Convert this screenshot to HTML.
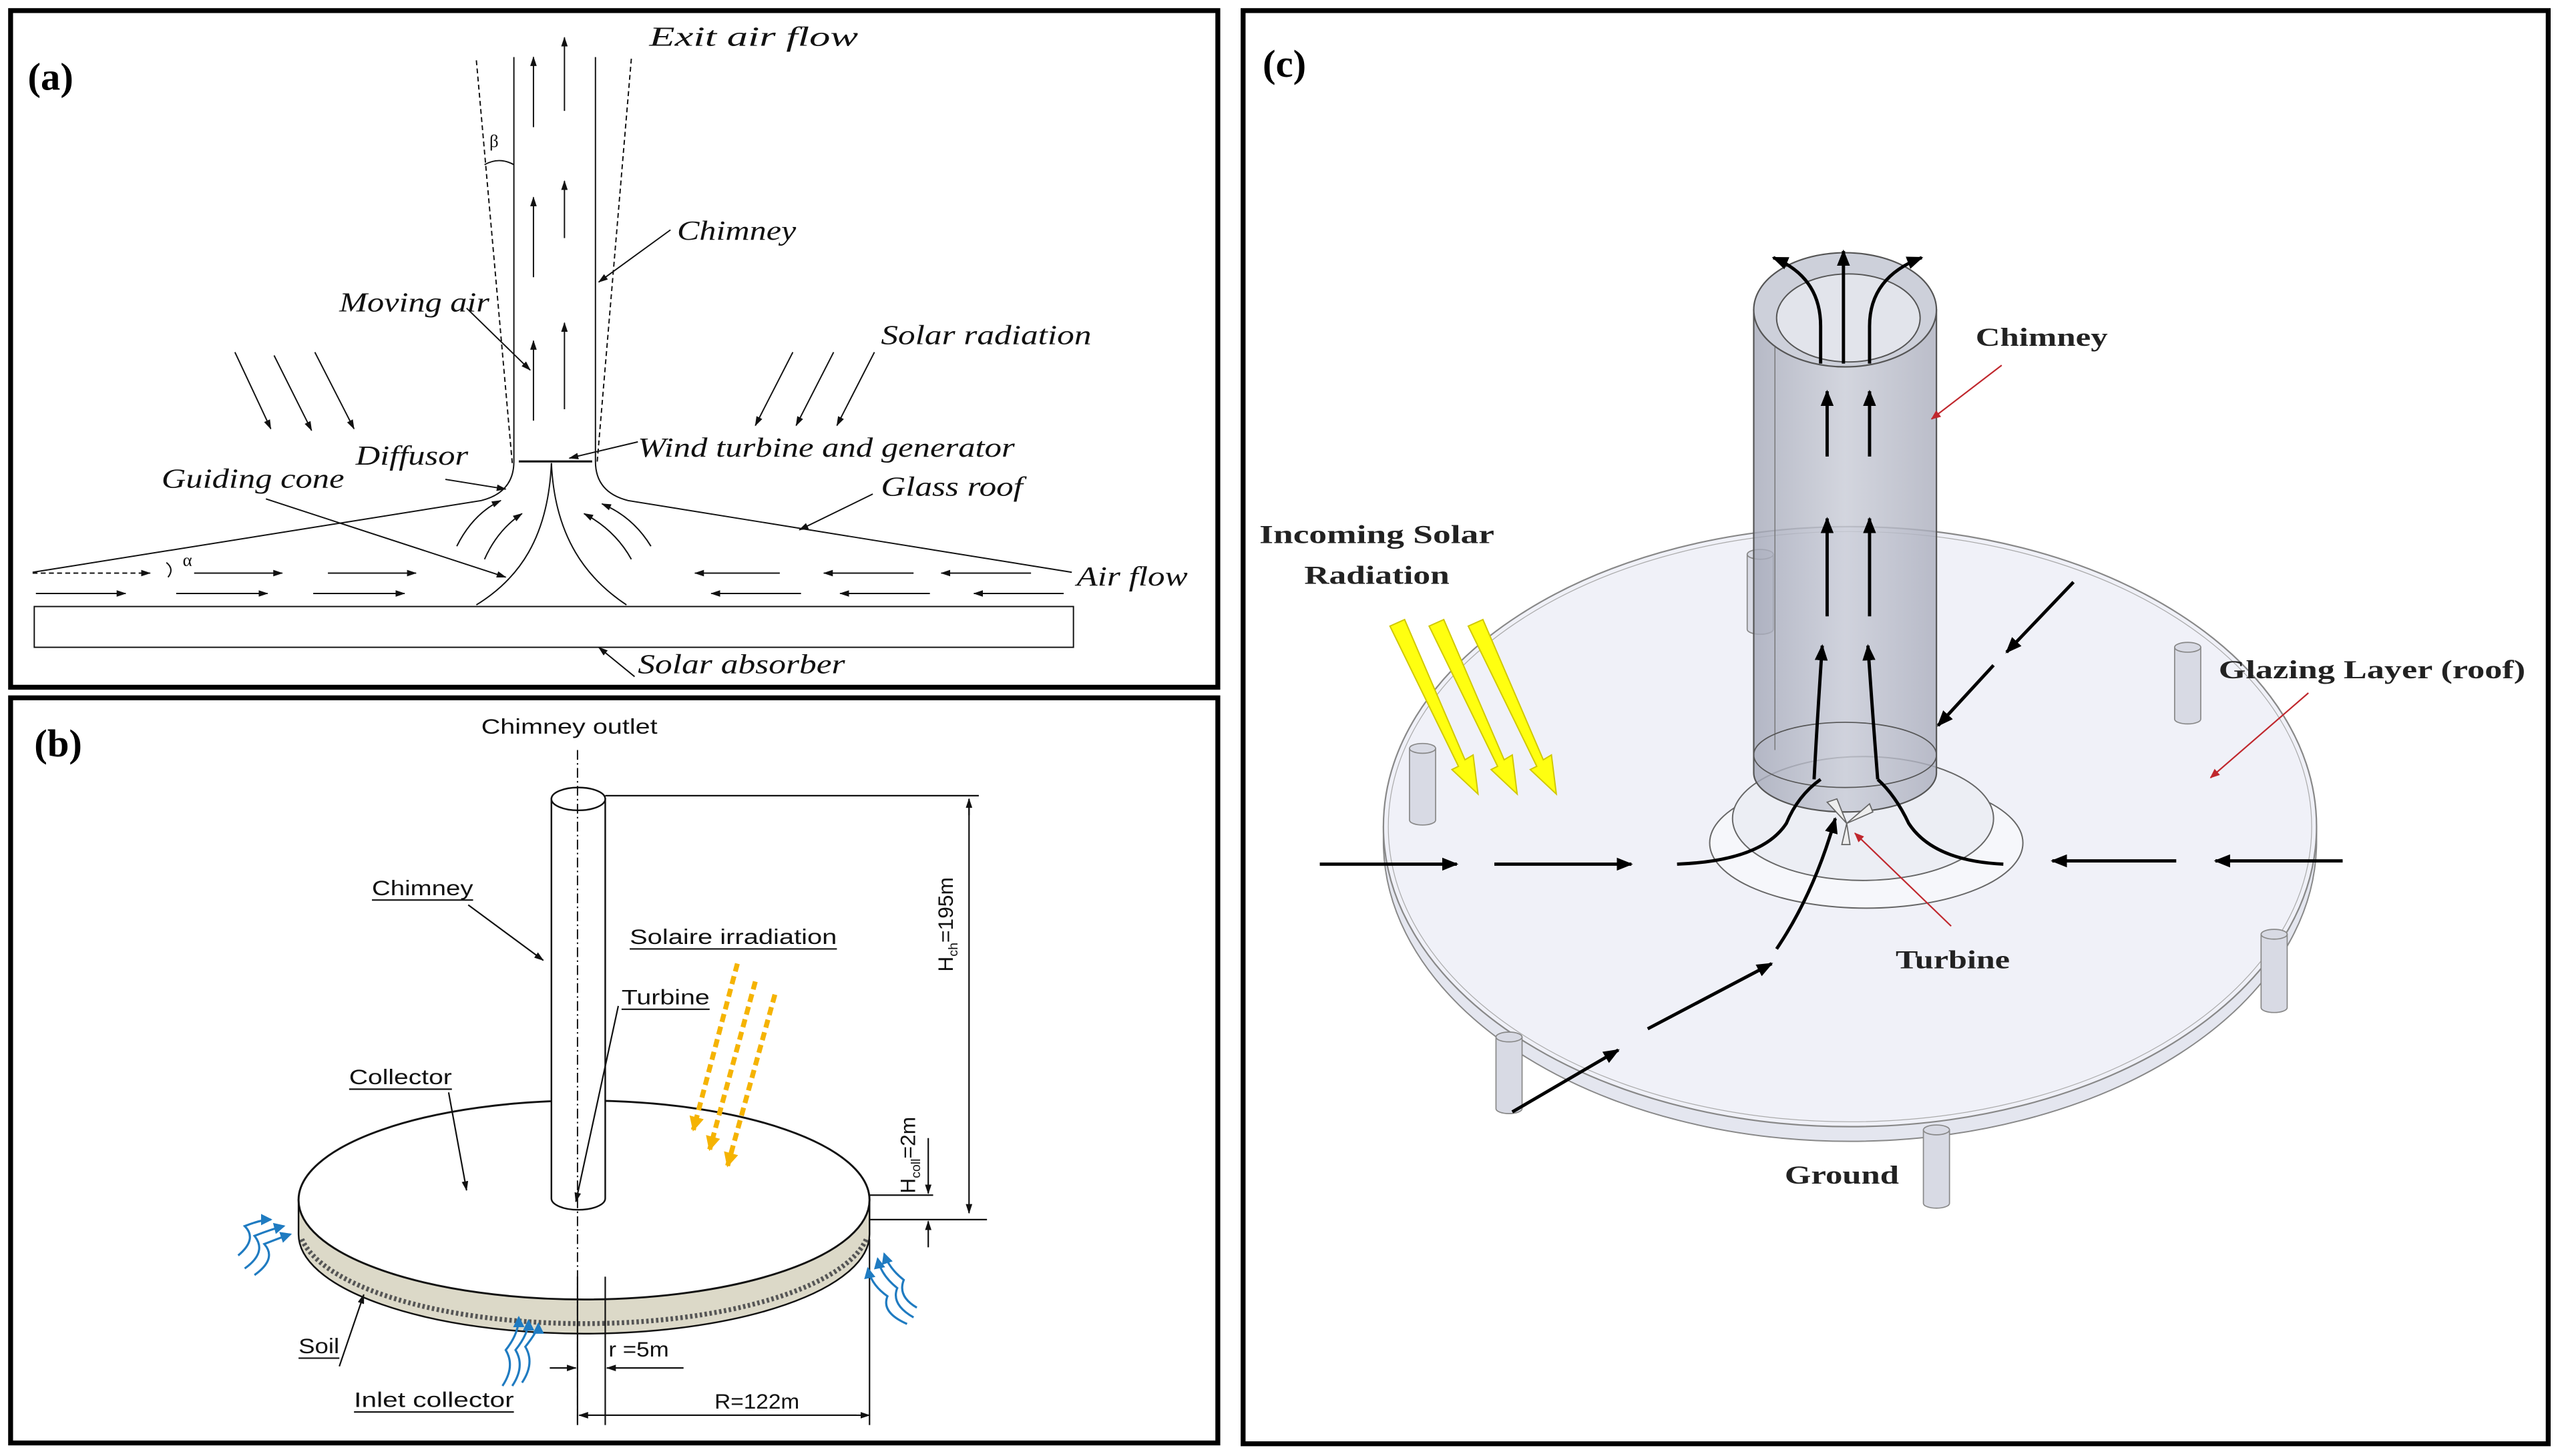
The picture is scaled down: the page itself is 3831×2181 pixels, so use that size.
<!DOCTYPE html>
<html><head><meta charset="utf-8"><style>
html,body{margin:0;padding:0;background:#fff;}
svg{display:block;}
.it{font-family:"Liberation Serif",serif;font-style:italic;font-size:17px;fill:#111;}
.ss{font-family:"Liberation Sans",sans-serif;font-size:13px;fill:#111;}
.bd{font-family:"Liberation Serif",serif;font-weight:bold;font-size:16px;fill:#222;}
.pl{font-family:"Liberation Serif",serif;font-weight:bold;font-size:24px;fill:#000;}
</style></head><body>
<svg width="3831" height="2181" viewBox="0 0 1568 893" preserveAspectRatio="none" xmlns="http://www.w3.org/2000/svg">
<defs>
<marker id="as" markerWidth="6" markerHeight="4" refX="5.5" refY="2" orient="auto" markerUnits="userSpaceOnUse"><path d="M0,0 L6,2 L0,4 Z" fill="#111"/></marker>
<marker id="ab" markerWidth="10" markerHeight="8" refX="9" refY="4" orient="auto" markerUnits="userSpaceOnUse"><path d="M0,0 L10,4 L0,8 Z" fill="#000"/></marker>
<marker id="ao" markerWidth="9" markerHeight="9" refX="8" refY="4.5" orient="auto" markerUnits="userSpaceOnUse"><path d="M0,0 L9,4.5 L0,9 Z" fill="#f5b301"/></marker>
<marker id="abl" markerWidth="7" markerHeight="7" refX="6" refY="3.5" orient="auto" markerUnits="userSpaceOnUse"><path d="M0,0 L7,3.5 L0,7 Z" fill="#1f7bc1"/></marker>
<marker id="ar" markerWidth="6" markerHeight="5" refX="5.5" refY="2.5" orient="auto" markerUnits="userSpaceOnUse"><path d="M0,0 L6,2.5 L0,5 Z" fill="#c0272d"/></marker>
<linearGradient id="cg" x1="0" x2="1"><stop offset="0" stop-color="#a4a8b8"/><stop offset="0.5" stop-color="#c8cbd6"/><stop offset="1" stop-color="#aaadbc"/></linearGradient>
</defs>

<rect x="6.5" y="6.5" width="740" height="415" fill="none" stroke="#000" stroke-width="3"/>
<rect x="6.5" y="428" width="740" height="457" fill="none" stroke="#000" stroke-width="3"/>
<rect x="762" y="6.5" width="800" height="879" fill="none" stroke="#000" stroke-width="3"/>

<!-- ===== Panel (a) ===== -->
<text class="pl" x="17" y="55">(a)</text>
<g fill="none" stroke="#111" stroke-width="0.8">
<path d="M315,35 L315,283 Q315,302 295,307 L20,351"/>
<path d="M365,35 L365,283 Q365,302 385,307 L657,351"/>
<path d="M292,37 L314,284" stroke-dasharray="3,2"/>
<path d="M387,36 L366,284" stroke-dasharray="3,2"/>
<path d="M297,101 Q306,96 315,101"/>
<line x1="318" y1="283" x2="363" y2="283" stroke-width="1.3"/>
<path d="M338,284 C336,330 318,355 292,371"/>
<path d="M338,284 C340,330 360,355 384,371"/>
<rect x="21" y="372" width="637" height="25"/>
<line x1="327" y1="78" x2="327" y2="35" marker-end="url(#as)"/>
<line x1="327" y1="170" x2="327" y2="121" marker-end="url(#as)"/>
<line x1="327" y1="258" x2="327" y2="209" marker-end="url(#as)"/>
<line x1="346" y1="68" x2="346" y2="23" marker-end="url(#as)"/>
<line x1="346" y1="146" x2="346" y2="111" marker-end="url(#as)"/>
<line x1="346" y1="251" x2="346" y2="198" marker-end="url(#as)"/>
<line x1="144" y1="216" x2="166" y2="263" marker-end="url(#as)"/>
<line x1="168" y1="218" x2="191" y2="264" marker-end="url(#as)"/>
<line x1="193" y1="216" x2="217" y2="263" marker-end="url(#as)"/>
<line x1="486" y1="216" x2="463" y2="261" marker-end="url(#as)"/>
<line x1="511" y1="216" x2="488" y2="261" marker-end="url(#as)"/>
<line x1="536" y1="216" x2="513" y2="261" marker-end="url(#as)"/>
<path d="M280,335 Q290,315 307,307" marker-end="url(#as)"/>
<path d="M297,343 Q305,325 320,315" marker-end="url(#as)"/>
<path d="M399,335 Q388,317 369,309" marker-end="url(#as)"/>
<path d="M387,343 Q377,325 358,315" marker-end="url(#as)"/>
<line x1="20" y1="351.5" x2="92" y2="351.5" stroke-dasharray="3,2" marker-end="url(#as)"/>
<line x1="119" y1="351.5" x2="173" y2="351.5" marker-end="url(#as)"/>
<line x1="201" y1="351.5" x2="255" y2="351.5" marker-end="url(#as)"/>
<line x1="478" y1="351.5" x2="426" y2="351.5" marker-end="url(#as)"/>
<line x1="560" y1="351.5" x2="505" y2="351.5" marker-end="url(#as)"/>
<line x1="632" y1="351.5" x2="577" y2="351.5" marker-end="url(#as)"/>
<line x1="22" y1="364" x2="77" y2="364" marker-end="url(#as)"/>
<line x1="108" y1="364" x2="164" y2="364" marker-end="url(#as)"/>
<line x1="192" y1="364" x2="248" y2="364" marker-end="url(#as)"/>
<line x1="491" y1="364" x2="436" y2="364" marker-end="url(#as)"/>
<line x1="570" y1="364" x2="515" y2="364" marker-end="url(#as)"/>
<line x1="652" y1="364" x2="597" y2="364" marker-end="url(#as)"/>
<path d="M102,345 Q107,349 103,354"/>
<line x1="391" y1="271" x2="349" y2="281" marker-end="url(#as)"/>
<line x1="411" y1="141" x2="367" y2="173" marker-end="url(#as)"/>
<line x1="286" y1="189" x2="325" y2="227" marker-end="url(#as)"/>
<line x1="273" y1="294" x2="310" y2="300" marker-end="url(#as)"/>
<line x1="163" y1="306" x2="310" y2="354" marker-end="url(#as)"/>
<line x1="535" y1="303" x2="490" y2="325" marker-end="url(#as)"/>
<line x1="389" y1="415" x2="367" y2="397" marker-end="url(#as)"/>
</g>
<text class="it" x="398" y="28" textLength="128" lengthAdjust="spacingAndGlyphs">Exit air flow</text>
<text x="300" y="90" font-family="Liberation Serif" font-size="11" fill="#111">β</text>
<text x="112" y="347" font-family="Liberation Serif" font-size="11" fill="#111">α</text>
<text class="it" x="415" y="147" textLength="73" lengthAdjust="spacingAndGlyphs">Chimney</text>
<text class="it" x="208" y="191" textLength="92" lengthAdjust="spacingAndGlyphs">Moving air</text>
<text class="it" x="540" y="211" textLength="129" lengthAdjust="spacingAndGlyphs">Solar radiation</text>
<text class="it" x="391" y="280" textLength="231" lengthAdjust="spacingAndGlyphs">Wind turbine and generator</text>
<text class="it" x="218" y="285" textLength="69" lengthAdjust="spacingAndGlyphs">Diffusor</text>
<text class="it" x="99" y="299" textLength="112" lengthAdjust="spacingAndGlyphs">Guiding cone</text>
<text class="it" x="540" y="304" textLength="87" lengthAdjust="spacingAndGlyphs">Glass roof</text>
<text class="it" x="660" y="359" textLength="68" lengthAdjust="spacingAndGlyphs">Air flow</text>
<text class="it" x="391" y="413" textLength="127" lengthAdjust="spacingAndGlyphs">Solar absorber</text>

<!-- ===== Panel (b) ===== -->
<text class="pl" x="21" y="464">(b)</text>
<text class="ss" x="349" y="450" text-anchor="middle" textLength="108" lengthAdjust="spacingAndGlyphs">Chimney outlet</text>
<path d="M183,736 L183,757 A175,61 0 0 0 533,757 L533,736 Z" fill="#dcd9c8" stroke="#111" stroke-width="1"/>
<path d="M185,760 A175,61 0 0 0 531,760" fill="none" stroke="#555" stroke-width="3" stroke-dasharray="1.5,1.5"/>
<ellipse cx="358" cy="736" rx="175" ry="61" fill="#fff" stroke="#111" stroke-width="1.2"/>
<path d="M338,490 L338,735 A16.5,7 0 0 0 371,735 L371,490 Z" fill="#fff" stroke="#111" stroke-width="1"/>
<ellipse cx="354.5" cy="490" rx="16.5" ry="7" fill="#fff" stroke="#111" stroke-width="1"/>
<line x1="354" y1="460" x2="354" y2="874" stroke="#111" stroke-width="0.8" stroke-dasharray="6,2,1,2"/>
<g fill="none" stroke="#111" stroke-width="0.9">
<line x1="371" y1="488" x2="600" y2="488"/>
<line x1="594" y1="490" x2="594" y2="744" marker-end="url(#as)"/>
<line x1="594" y1="500" x2="594" y2="490" marker-end="url(#as)"/>
<line x1="533" y1="748" x2="605" y2="748"/>
<line x1="533" y1="733" x2="572" y2="733"/>
<line x1="569" y1="698" x2="569" y2="732" marker-end="url(#as)"/>
<line x1="569" y1="765" x2="569" y2="749" marker-end="url(#as)"/>
<line x1="354" y1="783" x2="354" y2="874"/>
<line x1="371" y1="783" x2="371" y2="874"/>
<line x1="533" y1="760" x2="533" y2="874"/>
<line x1="337" y1="839" x2="353" y2="839" marker-end="url(#as)"/>
<line x1="419" y1="839" x2="372" y2="839" marker-end="url(#as)"/>
<line x1="360" y1="868" x2="533" y2="868" marker-end="url(#as)"/>
<line x1="525" y1="868" x2="355" y2="868" marker-end="url(#as)"/>
<line x1="287" y1="555" x2="333" y2="589" marker-end="url(#as)"/>
<line x1="379" y1="617" x2="353" y2="737" marker-end="url(#as)"/>
<line x1="275" y1="670" x2="286" y2="730" marker-end="url(#as)"/>
<line x1="208" y1="838" x2="223" y2="794" marker-end="url(#as)"/>
<line x1="228" y1="552" x2="290" y2="552"/>
<line x1="386" y1="582" x2="513" y2="582"/>
<line x1="381" y1="619" x2="435" y2="619"/>
<line x1="214" y1="668" x2="277" y2="668"/>
<line x1="183" y1="833" x2="208" y2="833"/>
<line x1="217" y1="866" x2="315" y2="866"/>
</g>
<g fill="none" stroke="#f5b301" stroke-width="3" stroke-dasharray="5,3">
<line x1="452" y1="591" x2="425" y2="693" marker-end="url(#ao)"/>
<line x1="463" y1="602" x2="435" y2="705" marker-end="url(#ao)"/>
<line x1="475" y1="610" x2="446" y2="715" marker-end="url(#ao)"/>
</g>
<g fill="none" stroke="#1f7bc1" stroke-width="1.3">
<path d="M146,770 Q158,760 150,752 Q160,748 166,748" marker-end="url(#abl)"/>
<path d="M150,778 Q164,768 156,758 Q166,754 174,752" marker-end="url(#abl)"/>
<path d="M156,782 Q170,772 162,763 Q172,759 178,757" marker-end="url(#abl)"/>
<path d="M308,850 Q316,838 310,828 Q318,818 318,808" marker-end="url(#abl)"/>
<path d="M314,850 Q322,838 316,828 Q324,818 324,810" marker-end="url(#abl)"/>
<path d="M320,848 Q328,836 322,826 Q330,816 330,812" marker-end="url(#abl)"/>
<path d="M560,808 Q546,800 550,790 Q540,782 538,772" marker-end="url(#abl)"/>
<path d="M562,802 Q550,795 554,785 Q545,778 542,769" marker-end="url(#abl)"/>
<path d="M556,812 Q540,805 544,795 Q534,788 532,778" marker-end="url(#abl)"/>
</g>
<text class="ss" x="228" y="549" textLength="62" lengthAdjust="spacingAndGlyphs">Chimney</text>
<text class="ss" x="386" y="579" textLength="127" lengthAdjust="spacingAndGlyphs">Solaire irradiation</text>
<text class="ss" x="381" y="616" textLength="54" lengthAdjust="spacingAndGlyphs">Turbine</text>
<text class="ss" x="214" y="665" textLength="63" lengthAdjust="spacingAndGlyphs">Collector</text>
<text class="ss" x="183" y="830" textLength="25" lengthAdjust="spacingAndGlyphs">Soil</text>
<text class="ss" x="217" y="863" textLength="98" lengthAdjust="spacingAndGlyphs">Inlet collector</text>
<text class="ss" x="373" y="832" textLength="37" lengthAdjust="spacingAndGlyphs">r =5m</text>
<text class="ss" x="438" y="864" textLength="52" lengthAdjust="spacingAndGlyphs">R=122m</text>
<text class="ss" transform="translate(584,596) rotate(-90)">H<tspan font-size="8" dy="3">ch</tspan><tspan dy="-3">=195m</tspan></text>
<text class="ss" transform="translate(561,732) rotate(-90)">H<tspan font-size="8" dy="3">coll</tspan><tspan dy="-3">=2m</tspan></text>

<!-- ===== Panel (c) ===== -->
<text class="pl" x="774" y="47">(c)</text>
<path d="M848,507 L848,516 A286,184 0 0 0 1420,516 L1420,507 Z" fill="#e4e6ef" stroke="#888" stroke-width="0.8"/>
<ellipse cx="1134" cy="507" rx="286" ry="184" fill="#f0f1f8" stroke="#888" stroke-width="0.9"/>
<ellipse cx="1134" cy="507" rx="283" ry="181" fill="none" stroke="#aaa" stroke-width="0.5"/>
<g fill="#d8dae4" stroke="#888" stroke-width="0.7">
<path d="M1071,340 L1071,386 A8,3 0 0 0 1087,386 L1087,340 Z"/><ellipse cx="1079" cy="340" rx="8" ry="3"/>
<path d="M1333,397 L1333,441 A8,3 0 0 0 1349,441 L1349,397 Z"/><ellipse cx="1341" cy="397" rx="8" ry="3"/>
</g>
<ellipse cx="1144" cy="517" rx="96" ry="40" fill="#f6f7fb" stroke="#666" stroke-width="0.8"/>
<ellipse cx="1142" cy="502" rx="80" ry="38" fill="#eceef4" stroke="#666" stroke-width="0.8"/>
<path d="M1075,190 L1075,474 A56,24 0 0 0 1187,474 L1187,190 Z" fill="url(#cg)" fill-opacity="0.8" stroke="#555" stroke-width="0.9"/>
<line x1="1088" y1="200" x2="1088" y2="460" stroke="#777" stroke-width="0.6"/>
<ellipse cx="1131" cy="463" rx="56" ry="20" fill="none" stroke="#555" stroke-width="0.7"/>
<ellipse cx="1131" cy="190" rx="56" ry="35" fill="#cdd0da" stroke="#555" stroke-width="0.9"/>
<ellipse cx="1133" cy="195" rx="44" ry="27" fill="#e2e4eb" stroke="#555" stroke-width="0.8"/>
<g fill="#d8dae4" stroke="#888" stroke-width="0.7">
<path d="M864,459 L864,503 A8,3 0 0 0 880,503 L880,459 Z"/><ellipse cx="872" cy="459" rx="8" ry="3"/>
<path d="M1386,573 L1386,618 A8,3 0 0 0 1402,618 L1402,573 Z"/><ellipse cx="1394" cy="573" rx="8" ry="3"/>
<path d="M917,636 L917,680 A8,3 0 0 0 933,680 L933,636 Z"/><ellipse cx="925" cy="636" rx="8" ry="3"/>
<path d="M1179,693 L1179,738 A8,3 0 0 0 1195,738 L1195,693 Z"/><ellipse cx="1187" cy="693" rx="8" ry="3"/>
</g>
<g fill="none" stroke="#000" stroke-width="2">
<line x1="1130" y1="223" x2="1130" y2="154" marker-end="url(#ab)"/>
<path d="M1116,223 L1116,200 Q1116,170 1087,158" marker-end="url(#ab)"/>
<path d="M1146,223 L1146,200 Q1146,170 1178,158" marker-end="url(#ab)"/>
<line x1="1120" y1="280" x2="1120" y2="240" marker-end="url(#ab)"/>
<line x1="1146" y1="280" x2="1146" y2="240" marker-end="url(#ab)"/>
<line x1="1120" y1="378" x2="1120" y2="318" marker-end="url(#ab)"/>
<line x1="1146" y1="378" x2="1146" y2="318" marker-end="url(#ab)"/>
<path d="M1112,478 Q1114,440 1117,396" marker-end="url(#ab)"/>
<path d="M1151,478 Q1148,440 1145,396" marker-end="url(#ab)"/>
<line x1="809" y1="530" x2="893" y2="530" marker-end="url(#ab)"/>
<line x1="916" y1="530" x2="1000" y2="530" marker-end="url(#ab)"/>
<path d="M1028,530 Q1080,528 1095,505 Q1102,488 1116,478"/>
<path d="M1228,530 Q1185,528 1170,505 Q1162,488 1151,478"/>
<line x1="1334" y1="528" x2="1258" y2="528" marker-end="url(#ab)"/>
<line x1="1436" y1="528" x2="1358" y2="528" marker-end="url(#ab)"/>
<line x1="927" y1="682" x2="992" y2="644" marker-end="url(#ab)"/>
<line x1="1010" y1="631" x2="1086" y2="591" marker-end="url(#ab)"/>
<path d="M1089,582 Q1112,548 1125,502" marker-end="url(#ab)"/>
<line x1="1271" y1="357" x2="1230" y2="400" marker-end="url(#ab)"/>
<line x1="1222" y1="408" x2="1188" y2="445" marker-end="url(#ab)"/>
</g>
<g stroke="#666" stroke-width="0.7" fill="#eee"><path d="M1132,505 L1120,492 L1126,490 Z"/><path d="M1132,505 L1146,493 L1148,498 Z"/><path d="M1132,505 L1134,518 L1129,518 Z"/></g>
<g fill="#ffff10" stroke="#d0c800" stroke-width="0.8">
<path d="M852,384 L861,380 L898,466 L903,463 L906,487 L890,472 L894,470 Z"/>
<path d="M876,384 L885,380 L922,466 L927,463 L930,487 L914,472 L918,470 Z"/>
<path d="M900,384 L909,380 L946,466 L951,463 L954,487 L938,472 L942,470 Z"/>
</g>
<g stroke="#c0272d" stroke-width="0.9" fill="none">
<line x1="1227" y1="224" x2="1184" y2="257" marker-end="url(#ar)"/>
<line x1="1415" y1="425" x2="1355" y2="477" marker-end="url(#ar)"/>
<line x1="1196" y1="568" x2="1137" y2="511" marker-end="url(#ar)"/>
</g>
<text class="bd" x="1211" y="212" textLength="81" lengthAdjust="spacingAndGlyphs">Chimney</text>
<text class="bd" x="844" y="333" text-anchor="middle" textLength="144" lengthAdjust="spacingAndGlyphs">Incoming Solar</text>
<text class="bd" x="844" y="358" text-anchor="middle" textLength="89" lengthAdjust="spacingAndGlyphs">Radiation</text>
<text class="bd" x="1360" y="416" textLength="188" lengthAdjust="spacingAndGlyphs">Glazing Layer (roof)</text>
<text class="bd" x="1162" y="594" textLength="70" lengthAdjust="spacingAndGlyphs">Turbine</text>
<text class="bd" x="1094" y="726" textLength="70" lengthAdjust="spacingAndGlyphs">Ground</text>
</svg>
</body></html>
